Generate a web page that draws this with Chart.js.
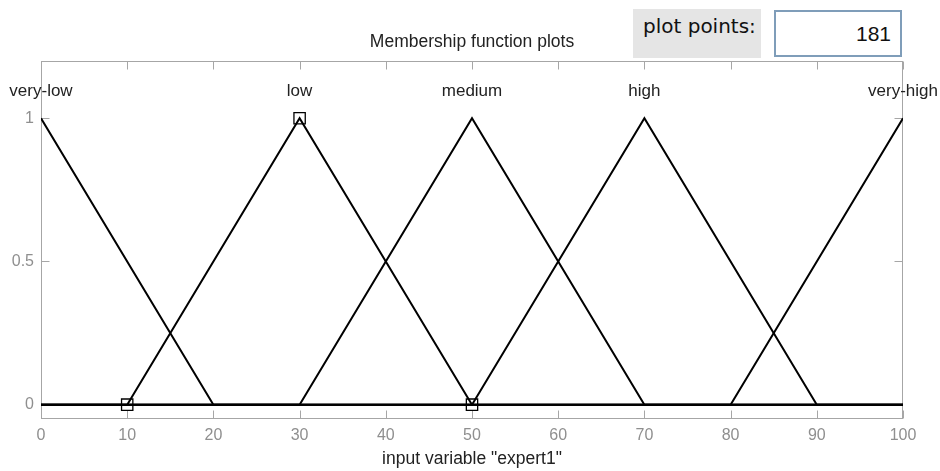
<!DOCTYPE html>
<html>
<head>
<meta charset="utf-8">
<script src="https://cdn.jsdelivr.net/npm/chart.js@4/dist/chart.umd.min.js"></script>
<style>
  body { margin: 0; background: #fff; }
  #wrap { position: relative; width: 940px; height: 471px; }
  #ppLabel {
    position: absolute; left: 633px; top: 9px; width: 128px; height: 49px;
    background: #e5e5e5; font-family: "DejaVu Sans", sans-serif; font-size: 20px;
    color: #111; box-sizing: border-box; padding: 6px 0 0 10px; line-height: 22px;
  }
  #ppBox {
    position: absolute; left: 774px; top: 10px; width: 128px; height: 47px;
    border: 2px solid #7f9db9; box-sizing: border-box; background: #fff;
    font-family: Arial, "Liberation Sans", sans-serif; font-size: 21px; color: #111;
    text-align: right; padding-right: 9px; line-height: 43px;
  }
</style>
</head>
<body>
<div id="wrap">
  <canvas id="myChart" width="940" height="471"></canvas>
  <div id="ppLabel">plot points:</div>
  <div id="ppBox">181</div>
</div>
<script>
// membership functions (x vertices, y values)
const mfNames = ['very-low', 'low', 'medium', 'high', 'very-high'];
const mfPeaks = [0, 30, 50, 70, 100];

const xVeryLow = [0, 20, 100];
const yVeryLow = [1, 0, 0];
const xLow = [0, 10, 30, 50, 100];
const yLow = [0, 0, 1, 0, 0];
const xMedium = [0, 30, 50, 70, 100];
const yMedium = [0, 0, 1, 0, 0];
const xHigh = [0, 50, 70, 90, 100];
const yHigh = [0, 0, 1, 0, 0];
const xVeryHigh = [0, 80, 100];
const yVeryHigh = [0, 0, 1];

// selected mf ("low") vertex markers
const xMarkers = [10, 30, 50];
const yMarkers = [0, 1, 0];

const xTicks = [0, 10, 20, 30, 40, 50, 60, 70, 80, 90, 100];
const yTicks = [0, 0.5, 1];

const chartTitle = 'Membership function plots';
const xTitle = 'input variable "expert1"';

const FONT = 'Arial, "Liberation Sans", sans-serif';
const AXIS_GRAY = '#a6a6a6';

function pts(xs, ys) {
    return xs.map((x, i) => ({ x: x, y: ys[i] }));
}

function mfLine(xs, ys) {
    return {
        data: pts(xs, ys),
        borderColor: '#000',
        borderWidth: 2,
        pointRadius: 0,
        fill: false,
        tension: 0
    };
}

const overlay = {
    id: 'overlay',
    beforeDatasetsDraw(chart) {
        const ctx = chart.ctx;
        const a = chart.chartArea;
        const xs = chart.scales.x, ys = chart.scales.y;
        const l = Math.round(a.left) + 0.5, r = Math.round(a.right) - 0.5;
        const t = Math.round(a.top) + 0.5, b = Math.round(a.bottom) - 0.5;
        ctx.save();
        ctx.strokeStyle = AXIS_GRAY;
        ctx.lineWidth = 1;
        ctx.strokeRect(l, t, r - l, b - t);
        ctx.beginPath();
        xTicks.forEach(v => {
            const px = Math.round(xs.getPixelForValue(v)) + 0.5;
            ctx.moveTo(px, b); ctx.lineTo(px, b - 8);
            ctx.moveTo(px, t); ctx.lineTo(px, t + 8);
        });
        yTicks.forEach(v => {
            const py = Math.round(ys.getPixelForValue(v)) + 0.5;
            ctx.moveTo(l, py); ctx.lineTo(l + 8, py);
            ctx.moveTo(r, py); ctx.lineTo(r - 8, py);
        });
        ctx.stroke();
        ctx.restore();
    },
    afterDraw(chart) {
        const ctx = chart.ctx;
        const a = chart.chartArea;
        const xs = chart.scales.x, ys = chart.scales.y;
        ctx.save();
        ctx.fillStyle = '#222';
        ctx.textAlign = 'center';
        ctx.textBaseline = 'alphabetic';
        ctx.font = '17.5px ' + FONT;
        ctx.fillText(chartTitle, (a.left + a.right) / 2, 47);
        ctx.fillText(xTitle, (a.left + a.right) / 2, 464);
        ctx.font = '17px ' + FONT;
        const labelY = ys.getPixelForValue(1) - 22;
        mfNames.forEach((n, i) => {
            ctx.fillText(n, xs.getPixelForValue(mfPeaks[i]), labelY);
        });
        ctx.restore();
    }
};

const config = {
    type: 'line',
    data: {
        datasets: [
            mfLine(xVeryLow, yVeryLow),
            mfLine(xLow, yLow),
            mfLine(xMedium, yMedium),
            mfLine(xHigh, yHigh),
            mfLine(xVeryHigh, yVeryHigh),
            {
                data: pts(xMarkers, yMarkers),
                showLine: false,
                pointStyle: 'rect',
                pointRadius: 8,
                pointBorderColor: '#000',
                pointBackgroundColor: 'rgba(0,0,0,0)',
                pointBorderWidth: 1.3
            }
        ]
    },
    options: {
        responsive: false,
        animation: false,
        layout: { padding: { top: 61, right: 37, left: 0, bottom: 0 } },
        plugins: {
            legend: { display: false },
            tooltip: { enabled: false },
            title: { display: false }
        },
        scales: {
            x: {
                type: 'linear',
                min: 0,
                max: 100,
                afterBuildTicks: s => { s.ticks = xTicks.map(v => ({ value: v })); },
                afterFit: s => { s.height = 52; },
                grid: { display: false, drawTicks: false },
                border: { display: false },
                ticks: {
                    color: '#8f8f8f',
                    font: { size: 16, family: FONT },
                    padding: 7,
                    maxRotation: 0,
                    autoSkip: false
                }
            },
            y: {
                type: 'linear',
                min: -0.05,
                max: 1.2,
                afterBuildTicks: s => { s.ticks = yTicks.map(v => ({ value: v })); },
                afterFit: s => { s.width = 41; },
                grid: { display: false, drawTicks: false },
                border: { display: false },
                ticks: {
                    color: '#8f8f8f',
                    font: { size: 16, family: FONT },
                    padding: 7,
                    callback: v => String(v)
                }
            }
        }
    },
    plugins: [overlay]
};

var myChart;

window.addEventListener('load', _ => {
    var ctx = document.getElementById('myChart').getContext('2d');
    myChart = new Chart(ctx, config);
});
</script>
</body>
</html>
